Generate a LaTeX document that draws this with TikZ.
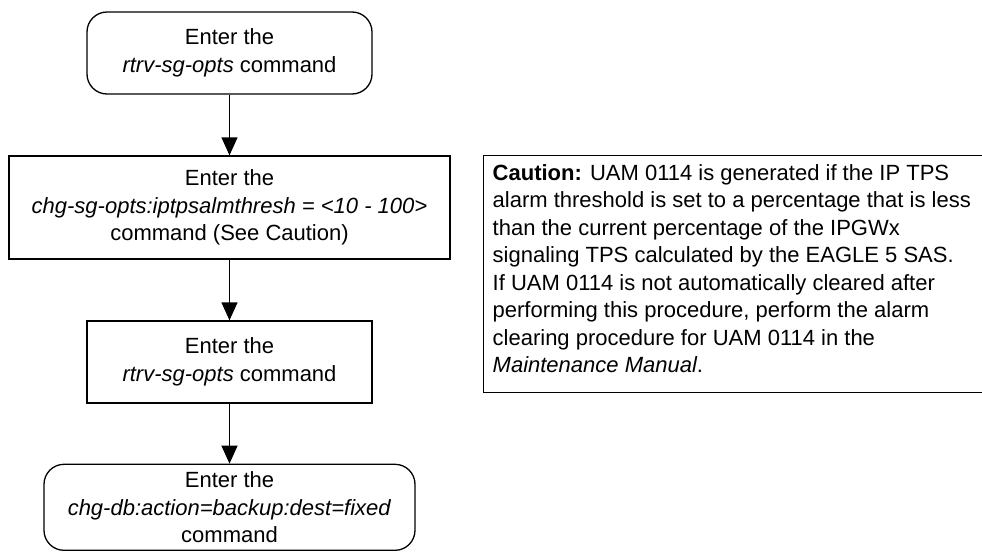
\documentclass[tikz,border=0pt]{standalone}
\usepackage{fontspec}
\setmainfont{Liberation Sans}
\usetikzlibrary{arrows.meta}
\begin{document}
\begin{tikzpicture}[x=1pt,y=-1pt,
  every node/.style={font=\fontsize{22}{27.5}\selectfont},
  procbox/.style={draw, line width=1.3pt, align=center, inner sep=0pt},
  termbox/.style={procbox, rounded corners=20pt},
  arr/.style={line width=1.3pt, -{Triangle[length=18pt,width=16pt]}}
]
\useasboundingbox (0,0) rectangle (982,552);
\node[termbox, minimum width=285pt, minimum height=82pt] (b1) at (229.5,53)
  {Enter the\\\textit{rtrv-sg-opts} command};
\node[procbox, minimum width=441pt, minimum height=103pt] (b2) at (229.5,207.5)
  {Enter the\\\textit{chg-sg-opts:iptpsalmthresh = <10 - 100>}\\command (See Caution)};
\node[procbox, minimum width=285pt, minimum height=82pt] (b3) at (229.5,362)
  {Enter the\\\textit{rtrv-sg-opts} command};
\node[termbox, minimum width=371pt, minimum height=86pt] (b4) at (229.5,507.3)
  {Enter the\\\textit{chg-db:action=backup:dest=fixed}\\command};
\draw[arr] (b1) -- (b2);
\draw[arr] (b2) -- (b3);
\draw[arr] (b3) -- (b4);
\node[draw, line width=1.3pt, anchor=north west, minimum width=520pt, minimum height=237pt, inner sep=0pt] (cbox) at (482.5,155) {};
\node[anchor=north west, align=left, inner sep=0pt] (ctext) at (492.5,164)
  {\textbf{Caution:} UAM 0114 is generated if the IP TPS\\
   alarm threshold is set to a percentage that is less\\
   than the current percentage of the IPGWx\\
   signaling TPS calculated by the EAGLE 5 SAS.\\
   If UAM 0114 is not automatically cleared after\\
   performing this procedure, perform the alarm\\
   clearing procedure for UAM 0114 in the\\
   \textit{Maintenance Manual}.};
\end{tikzpicture}
\end{document}
